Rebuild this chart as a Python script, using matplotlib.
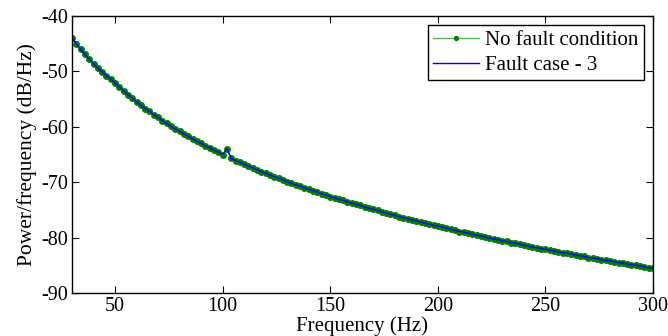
import matplotlib
matplotlib.use("Agg")
import matplotlib.pyplot as plt
import numpy as np

plt.rcParams['font.family'] = ['Liberation Serif', 'DejaVu Serif']
plt.rcParams['axes.unicode_minus'] = False

freq_start = 30
freq_step = 2
no_fault = [
    -43.9, -45.0, -46.0, -46.9, -47.8, -48.6, -49.4, -50.1, -50.8, -51.4,
    -52.1, -52.8, -53.5, -54.2, -54.8, -55.5, -56.1, -56.7, -57.2, -57.8,
    -58.3, -58.9, -59.4, -59.9, -60.4, -60.8, -61.3, -61.7, -62.2, -62.6,
    -63.0, -63.4, -63.8, -64.2, -64.6, -65.0, -64.0, -65.7, -66.1, -66.4,
    -66.8, -67.1, -67.4, -67.8, -68.1, -68.4, -68.7, -69.0, -69.3, -69.6,
    -69.9, -70.2, -70.5, -70.7, -71.0, -71.3, -71.5, -71.8, -72.1, -72.3,
    -72.6, -72.8, -73.1, -73.3, -73.5, -73.8, -74.0, -74.2, -74.5, -74.7,
    -74.9, -75.1, -75.3, -75.6, -75.8, -76.0, -76.2, -76.4, -76.6, -76.8,
    -77.0, -77.2, -77.4, -77.6, -77.8, -77.9, -78.1, -78.3, -78.5, -78.7,
    -78.9, -79.0, -79.2, -79.4, -79.6, -79.7, -79.9, -80.1, -80.2, -80.4,
    -80.6, -80.7, -80.9, -81.0, -81.2, -81.4, -81.5, -81.7, -81.8, -82.0,
    -82.1, -82.3, -82.4, -82.6, -82.7, -82.8, -83.0, -83.1, -83.3, -83.4,
    -83.6, -83.7, -83.8, -84.0, -84.1, -84.2, -84.4, -84.5, -84.6, -84.8,
    -84.9, -85.0, -85.1, -85.3, -85.4, -85.5,
]
fault_case_3 = list(no_fault)

freqs = freq_start + freq_step * np.arange(len(no_fault))

fig = plt.figure(figsize=(6.68, 3.36), dpi=100)
ax = fig.add_axes([72 / 668, 1 - 293 / 336, 581 / 668, 277 / 336])

ax.plot(freqs, no_fault, color=(0.35, 0.72, 0.35), marker='o', markersize=4,
        markerfacecolor=(0.0, 0.5, 0.0), markeredgecolor=(0.0, 0.5, 0.0),
        linewidth=1.0, label='No fault condition')
ax.plot(freqs, fault_case_3, color='#0000ff', linewidth=1.0, label='Fault case - 3')

ax.set_xlim(30, 300)
ax.set_ylim(-90, -40)
ax.set_xticks([50, 100, 150, 200, 250, 300])
ax.set_yticks([-90, -80, -70, -60, -50, -40])
ax.tick_params(direction='in', top=True, right=True, labelsize=14.5, length=5, pad=3)
ax.set_xlabel('Frequency (Hz)', fontsize=15, labelpad=0)
ax.set_ylabel('Power/frequency (dB/Hz)', fontsize=15.5, labelpad=3)
for s in ax.spines.values():
    s.set_linewidth(1.0)

leg = ax.legend(loc='upper right', fontsize=15, fancybox=False, framealpha=1,
                edgecolor='black', borderaxespad=0.45, handlelength=2.2,
                borderpad=0.25, labelspacing=0.25, handletextpad=0.3,
                markerscale=0.7)
leg.get_frame().set_linewidth(1.0)

fig.savefig('out.png', dpi=100)
